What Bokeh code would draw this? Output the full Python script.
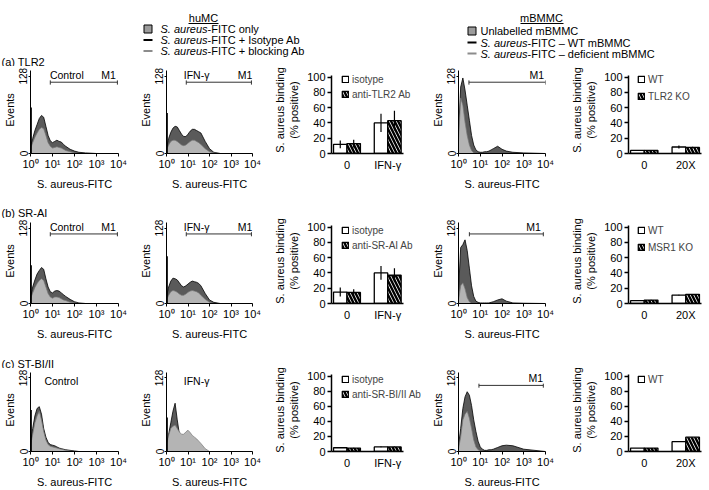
from bokeh.plotting import figure
from bokeh.layouts import column, row
from bokeh.models import Range1d, FixedTicker, Label, Legend, LegendItem
from bokeh.embed import file_html
from bokeh.resources import INLINE
from bokeh.core.properties import value

FONT = "Liberation Sans"

# ---------------- data ----------------
DEC = [0, 0.1, 0.2, 0.3, 0.4, 0.5, 0.6, 0.7, 0.8, 0.9, 1.0, 1.1, 1.2, 1.3, 1.4, 1.5, 1.6, 1.8, 2.0, 2.2, 2.5, 3.0, 4.0]
DEC_TICKS = [0, 1, 2, 3, 4]
DEC_LABELS = ["10⁰", "10¹", "10²", "10³", "10⁴"]
EV_TICKS = [0, 128]
SPIKE_X = 0.03

a1_dark = [12, 25, 38, 48, 58, 63, 60, 45, 30, 21, 18, 20, 22, 20, 19, 15, 12, 7, 4, 2, 1, 0, 0]
a1_light = [8, 18, 27, 34, 40, 43, 41, 30, 18, 12, 9, 10, 11, 10, 9, 7, 5, 3, 1, 0, 0, 0, 0]
a2_dark = [10, 25, 35, 42, 45, 44, 38, 32, 28, 28, 32, 37, 40, 40, 38, 36, 34, 20, 8, 2, 0, 0, 0]
a2_light = [6, 14, 20, 22, 22, 20, 17, 14, 13, 14, 17, 20, 22, 22, 20, 18, 15, 8, 3, 1, 0, 0, 0]
a3_dark = [30, 110, 125, 105, 80, 55, 30, 14, 6, 3, 2, 2, 3, 3, 4, 6, 8, 12, 7, 4, 2, 1, 0]
a3_light = [20, 92, 80, 52, 30, 14, 5, 1, 0, 0, 0, 0, 0, 0, 0, 0, 0, 0, 0, 0, 0, 0, 0]
b1_dark = [10, 28, 40, 50, 56, 61, 58, 42, 28, 20, 18, 21, 22, 21, 18, 15, 12, 7, 3, 1, 0, 0, 0]
b1_light = [8, 18, 27, 34, 39, 42, 39, 28, 17, 11, 9, 11, 11, 10, 8, 6, 5, 2, 1, 0, 0, 0, 0]
b2_dark = [12, 28, 38, 43, 42, 40, 35, 30, 28, 30, 33, 36, 38, 37, 36, 34, 30, 17, 6, 2, 0, 0, 0]
b2_light = [6, 14, 20, 22, 21, 19, 16, 14, 14, 16, 19, 21, 22, 21, 20, 18, 14, 7, 2, 0, 0, 0, 0]
b3_dark = [20, 95, 100, 108, 90, 60, 30, 12, 4, 2, 1, 1, 1, 1, 1, 2, 3, 6, 8, 4, 1, 0.5, 0]
b3_light = [5, 30, 35, 25, 10, 3, 0, 0, 0, 0, 0, 0, 0, 0, 0, 0, 0, 0, 0, 0, 0, 0, 0]
c1_dark = [15, 40, 62, 75, 78, 65, 40, 25, 16, 12, 11, 10, 8, 6, 5, 4, 3, 2, 1, 0, 0, 0, 0]
c1_light = [10, 30, 50, 62, 70, 55, 35, 20, 12, 9, 8, 7, 6, 5, 4, 3, 2, 1, 0, 0, 0, 0, 0]
c2_dark = [10, 30, 50, 70, 84, 55, 30, 18, 10, 6, 3, 1, 0, 0, 0, 0, 0, 0, 0, 0, 0, 0, 0]
c2_light = [12, 28, 40, 44, 46, 40, 34, 30, 30, 34, 37, 33, 28, 25, 22, 18, 14, 5, 0, 0, 0, 0, 0]
c3_dark = [10, 40, 75, 95, 104, 98, 80, 55, 35, 18, 8, 4, 2, 2, 3, 3, 4, 7, 10, 11, 10, 4, 0]
c3_light = [5, 25, 55, 65, 70, 58, 40, 20, 8, 3, 1, 0, 0, 0, 0, 0, 0, 0, 0, 0, 0, 0, 0]

spikes = {"a1": 76, "a2": 67, "b1": 65, "b2": 80, "c1": 72, "c2": 59}

gate_a1 = (0.9, 3.95, 118); lab_a1 = [("Control", 1.65), ("M1", 3.55)]
gate_a2 = (0.92, 3.95, 118); lab_a2 = [("IFN-γ", 1.4), ("M1", 3.65)]
gate_a3 = (0.48, 4.0, 118); lab_a3 = [("M1", 3.6)]
gate_b1 = (0.9, 3.95, 118); lab_b1 = [("Control", 1.65), ("M1", 3.55)]
gate_b2 = (0.92, 3.95, 118); lab_b2 = [("IFN-γ", 1.4), ("M1", 3.65)]
gate_b3 = (0.5, 3.9, 118); lab_b3 = [("M1", 3.45)]
lab_c1 = [("Control", 1.4)]
lab_c2 = [("IFN-γ", 1.4)]
gate_c3 = (0.94, 3.9, 115); lab_c3 = [("M1", 3.55)]

hu_cats = ["0", "IFN-γ"]
m_cats = ["0", "20X"]
a_hu_iso = [12, 40]; a_hu_iso_err = [5, 12]
a_hu_anti = [13, 43]; a_hu_anti_err = [5, 13]
a_m_wt = [4, 8.5]; a_m_wt_err = [0.5, 2]
a_m_ko = [4, 8]; a_m_ko_err = [0.5, 1]
b_hu_iso = [15, 40]; b_hu_iso_err = [6, 9]
b_hu_anti = [14.5, 37]; b_hu_anti_err = [4, 9]
b_m_wt = [3.7, 11]; b_m_wt_err = [0.5, 0.5]
b_m_ko = [4.5, 12]; b_m_ko_err = [0.5, 0.5]
c_hu_iso = [5, 6]; c_hu_iso_err = [0.5, 0.5]
c_hu_anti = [4.5, 6]; c_hu_anti_err = [0.5, 0.5]
c_m_wt = [4.5, 13]; c_m_wt_err = [0, 0]
c_m_ko = [4.5, 19]; c_m_ko_err = [0, 0]

BAR_TICKS = [0, 20, 40, 60, 80, 100]
GROUP_X = [1, 2]
BAR_X0, BAR_X1 = 0.62, 2.38
PX_PER_GROUP = 42.0

tf = value(FONT)


def base_fig(width, height, bl, br, bt, bb, xr, yr):
    p = figure(width=width, height=height, x_range=xr, y_range=yr,
               output_backend="svg", toolbar_location=None,
               min_border_left=bl, min_border_right=br, min_border_top=bt, min_border_bottom=bb)
    p.outline_line_color = None
    p.grid.visible = False
    p.background_fill_color = "white"
    p.border_fill_color = "white"
    return p


def style_axes(p):
    for ax in (p.xaxis[0], p.yaxis[0]):
        ax.axis_line_color = "black"
        ax.major_tick_line_color = "black"
        ax.minor_tick_line_color = None
        ax.major_tick_in = 0
        ax.major_label_text_font = FONT
        ax.axis_label_text_font = FONT
        ax.axis_label_text_font_style = "normal"
        ax.major_label_text_color = "black"
        ax.axis_label_text_color = "black"


def hist_fig(width, height, bl, br, bb, y_end, dark, light, spike, gate, labels):
    p = base_fig(width, height, bl, br, 0, bb, Range1d(0, 4), Range1d(0, y_end))
    p.varea(x=DEC, y1=0, y2=dark, fill_color="#5a5a5a")
    p.line(DEC, dark, line_color="black", line_width=0.8)
    p.varea(x=DEC, y1=0, y2=light, fill_color="#b4b4b4")
    p.line(DEC, light, line_color="#777777", line_width=0.7)
    if spike:
        p.segment(x0=[SPIKE_X], y0=[0], x1=[SPIKE_X], y1=[spike], line_color="black", line_width=1.4)
    if gate:
        x0, x1, gy = gate
        p.segment(x0=[x0], y0=[gy], x1=[x1], y1=[gy], line_color="#333333", line_width=1)
        p.segment(x0=[x0, x1], y0=[gy - 4, gy - 4], x1=[x0, x1], y1=[gy + 3, gy + 3],
                  line_color="#333333", line_width=1)
        ty = gy + 2
    else:
        ty = 112
    for txt, tx in labels:
        p.add_layout(Label(x=tx, y=ty, text=txt, text_align="center", text_baseline="bottom",
                           text_font=FONT, text_font_size="10.5px", text_color="black"))
    style_axes(p)
    p.xaxis.ticker = FixedTicker(ticks=DEC_TICKS)
    p.xaxis.major_label_overrides = {t: s for t, s in zip(DEC_TICKS, DEC_LABELS)}
    p.xaxis.major_label_text_font_size = "11px"
    p.xaxis.major_tick_out = 3
    p.xaxis.major_label_standoff = 1
    p.xaxis.axis_label = "S. aureus-FITC"
    p.xaxis.axis_label_text_font_size = "11px"
    p.xaxis.axis_label_standoff = 5
    p.yaxis.ticker = FixedTicker(ticks=EV_TICKS)
    p.yaxis.bounds = (0, 138)
    p.yaxis.major_label_orientation = "vertical"
    p.yaxis.major_label_text_font_size = "10px"
    p.yaxis.major_tick_out = 2
    p.yaxis.major_label_standoff = 1
    p.yaxis.axis_label = "Events"
    p.yaxis.axis_label_text_font_size = "11px"
    p.yaxis.axis_label_standoff = 1
    return p


def bar_fig(width, height, bl, bb, y_end, cats, s1, e1, s2, e2, names, leg_dx, leg_top, leg_gap):
    fw = width - bl
    p = base_fig(width, height, bl, 0, 0, bb,
                 Range1d(BAR_X0, BAR_X0 + fw / PX_PER_GROUP), Range1d(0, y_end))
    off = 0.165
    x1 = [g - off for g in GROUP_X]
    x2 = [g + off for g in GROUP_X]
    r1 = p.vbar(x=x1, top=s1, width=0.33, fill_color="white", line_color="black", line_width=1.3)
    r2 = p.vbar(x=x2, top=s2, width=0.33, fill_color="white", line_color="black", line_width=1.3,
                hatch_pattern="left_diagonal_line", hatch_color="black", hatch_weight=2.4, hatch_scale=7)
    p.segment(x0=x1, y0=[v - e for v, e in zip(s1, e1)], x1=x1, y1=[v + e for v, e in zip(s1, e1)],
              line_color="black", line_width=1.2)
    p.segment(x0=x2, y0=[v - e for v, e in zip(s2, e2)], x1=x2, y1=[v + e for v, e in zip(s2, e2)],
              line_color="black", line_width=1.2)
    style_axes(p)
    p.xaxis.bounds = (BAR_X0, BAR_X1)
    p.xaxis.ticker = FixedTicker(ticks=GROUP_X)
    p.xaxis.major_label_overrides = {g: c for g, c in zip(GROUP_X, cats)}
    p.xaxis.major_tick_line_color = None
    p.xaxis.major_tick_out = 0
    p.xaxis.major_label_standoff = 5
    p.xaxis.major_label_text_font_size = "11px"
    p.xaxis.axis_line_width = 1.5
    p.yaxis.bounds = (0, 102.5)
    p.yaxis.ticker = FixedTicker(ticks=BAR_TICKS)
    p.yaxis.major_label_text_font_size = "11px"
    p.yaxis.major_tick_out = 4
    p.yaxis.major_label_standoff = 2
    p.yaxis.axis_line_width = 1.5
    p.yaxis.major_tick_line_width = 1.5
    p.yaxis.axis_label = "S. aureus binding\n(% positive)"
    p.yaxis.axis_label_text_font_size = "11px"
    p.yaxis.axis_label_standoff = 4
    items = [LegendItem(label=names[0], renderers=[r1])]
    if len(names) > 1:
        items.append(LegendItem(label=names[1], renderers=[r2]))
    fh = height - bb
    lh = 12 * len(items) + leg_gap * (len(items) - 1)
    leg = Legend(items=items, location=(leg_dx, fh - leg_top - lh), padding=0, margin=0,
                 spacing=leg_gap, glyph_width=8, glyph_height=8, label_height=12, label_standoff=3,
                 label_text_font=FONT, label_text_font_size="10px",
                 background_fill_alpha=0, border_line_color=None)
    p.add_layout(leg)
    return p


hdr = figure(width=709, height=66, x_range=Range1d(0, 709), y_range=Range1d(66, 0),
             output_backend="svg", toolbar_location=None, min_border=0)
hdr.axis.visible = False
hdr.grid.visible = False
hdr.outline_line_color = None
hdr.text(x=[203, 541], y=[17, 17], text=["huMC", "mBMMC"], text_font=tf, text_font_size="11px",
         text_align="center", text_baseline="middle", text_color="black")
hdr.segment(x0=[188, 520], y0=[23, 23], x1=[218, 563], y1=[23, 23], line_color="black", line_width=1)
hdr.rect(x=[147.5, 471.5], y=[28.5, 30.5], width=8, height=8, fill_color="#9c9c9c", line_color="black",
         line_width=1)
hdr.segment(x0=[143, 143, 467, 467], y0=[39.5, 50.5, 42, 53], x1=[152, 152, 476, 476],
            y1=[39.5, 50.5, 42, 53], line_color=["black", "#8c8c8c", "black", "#8c8c8c"], line_width=2)
hdr.text(x=[160, 160, 160, 480, 480], y=[28.5, 39.5, 50.5, 42, 53],
         text=["S. aureus"] * 5,
         text_font=tf, text_font_style="italic", text_font_size="11px", text_baseline="middle",
         text_color="black")
hdr.text(x=[207, 207, 207, 480, 527, 527], y=[28.5, 39.5, 50.5, 30.5, 42, 53],
         text=["-FITC only", "-FITC + Isotype Ab", "-FITC + blocking Ab", "Unlabelled mBMMC",
               "-FITC – WT mBMMC", "-FITC – deficient mBMMC"],
         text_font=tf, text_font_size="11px", text_baseline="middle", text_color="black")
hdr.text(x=[1], y=[61], text=["(a) TLR2"], text_font=tf, text_font_size="11px",
         text_baseline="middle", text_color="black")


def strip(y0, y1, ty, txt):
    s = figure(width=709, height=y1 - y0, x_range=Range1d(0, 709), y_range=Range1d(y1, y0),
               output_backend="svg", toolbar_location=None, min_border=0)
    s.axis.visible = False
    s.grid.visible = False
    s.outline_line_color = None
    s.text(x=[1], y=[ty], text=[txt], text_font=tf, text_font_size="11px",
           text_baseline="middle", text_color="black")
    return s


def make_row(top, h, px0, px128, px100, leg_top, d):
    bb = top + h - px0
    fh = h - bb
    hy = 128.0 * fh / (px0 - px128)
    by = 100.0 * fh / (px0 - px100)
    return row(
        hist_fig(136, h, 28, 18, bb, hy, *d[0]),
        hist_fig(134, h, 28, 18, bb, hy, *d[1]),
        bar_fig(158, h, 58, bb, by, hu_cats, *d[2], leg_top, 3),
        hist_fig(139, h, 28, 22, bb, hy, *d[3]),
        bar_fig(142, h, 60, bb, by, m_cats, *d[4], leg_top, 5),
    )


rowA = make_row(66, 126, 156, 76, 77, 10, [
    (a1_dark, a1_light, spikes["a1"], gate_a1, lab_a1),
    (a2_dark, a2_light, spikes["a2"], gate_a2, lab_a2),
    (a_hu_iso, a_hu_iso_err, a_hu_anti, a_hu_anti_err, ["isotype", "anti-TLR2 Ab"], 10),
    (a3_dark, a3_light, 0, gate_a3, lab_a3),
    (a_m_wt, a_m_wt_err, a_m_ko, a_m_ko_err, ["WT", "TLR2 KO"], 9),
])
rowB = make_row(218, 124, 307, 228, 227, 10, [
    (b1_dark, b1_light, spikes["b1"], gate_b1, lab_b1),
    (b2_dark, b2_light, spikes["b2"], gate_b2, lab_b2),
    (b_hu_iso, b_hu_iso_err, b_hu_anti, b_hu_anti_err, ["isotype", "anti-SR-AI Ab"], 10),
    (b3_dark, b3_light, 0, gate_b3, lab_b3),
    (b_m_wt, b_m_wt_err, b_m_ko, b_m_ko_err, ["WT", "MSR1 KO"], 9),
])
rowC = make_row(368, 122, 456, 378, 376, 10, [
    (c1_dark, c1_light, spikes["c1"], None, lab_c1),
    (c2_dark, c2_light, spikes["c2"], None, lab_c2),
    (c_hu_iso, c_hu_iso_err, c_hu_anti, c_hu_anti_err, ["isotype", "anti-SR-BI/II Ab"], 10),
    (c3_dark, c3_light, 0, gate_c3, lab_c3),
    (c_m_wt, c_m_wt_err, c_m_ko, c_m_ko_err, ["WT"], 9),
])

layout = column(hdr, rowA, strip(192, 218, 212, "(b) SR-AI"), rowB,
                strip(342, 368, 363, "(c) ST-BI/II"), rowC)

open("out.html", "w").write(file_html(layout, INLINE))
